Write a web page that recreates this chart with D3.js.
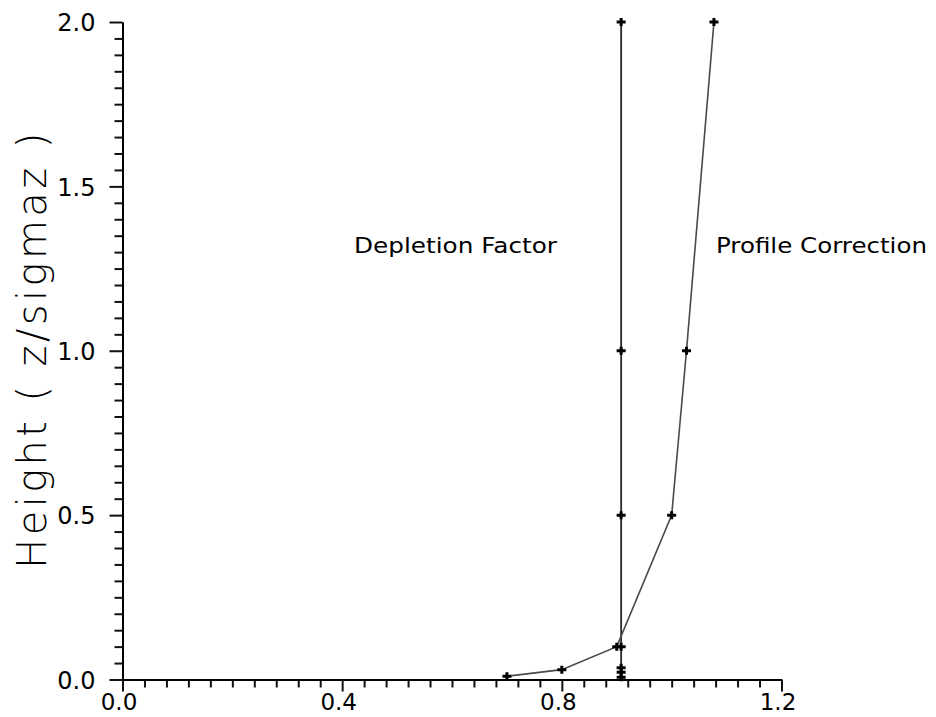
<!DOCTYPE html>
<html>
<head>
<meta charset="utf-8">
<script src="https://cdn.jsdelivr.net/npm/d3@7"></script>
<style>
  body { margin: 0; background: #fff; }
  svg text { font-family: "DejaVu Sans", sans-serif; fill: #000; }
</style>
</head>
<body>
<div id="chart"><svg width="936" height="717"></svg></div>
<script>
// heights (z/sigmaz) and the two curves
const profileHeights = [0.01, 0.03, 0.1, 0.5, 1.0, 2.0];
const profileValues = [0.70, 0.80, 0.90, 1.00, 1.027, 1.077];
const depletionHeights = [0.007, 0.022, 0.036, 0.1, 0.5, 1.0, 2.0];
const depletionValues = [0.908, 0.908, 0.908, 0.908, 0.908, 0.908, 0.908];

const xMajorTicks = [0.0, 0.4, 0.8, 1.2];
const yMajorTicks = [0.0, 0.5, 1.0, 1.5, 2.0];
const xTickLabels = ["0.0", "0.4", "0.8", "1.2"];
const yTickLabels = ["0.0", "0.5", "1.0", "1.5", "2.0"];

const svg = d3.select("#chart svg");

const xScale = d3.scaleLinear().domain([0, 1.2]).range([122.5, 781.5]);
const yScale = d3.scaleLinear().domain([0, 2.0]).range([679.5, 22]);

const xMinor = d3.range(0, 31).map(i => i * 0.04).filter(v => !xMajorTicks.some(m => Math.abs(m - v) < 1e-6));
const yMinor = d3.range(0, 41).map(i => i * 0.05).filter(v => !yMajorTicks.some(m => Math.abs(m - v) < 1e-6));

// minor ticks
svg.append("g")
    .attr("class", "x-minor")
    .attr("transform", `translate(0,${yScale(0)})`)
    .call(d3.axisBottom(xScale).tickValues(xMinor).tickSize(8).tickSizeOuter(0).tickFormat(""));
svg.append("g")
    .attr("class", "y-minor")
    .attr("transform", `translate(${xScale(0)},0)`)
    .call(d3.axisLeft(yScale).tickValues(yMinor).tickSize(8).tickSizeOuter(0).tickFormat(""));

// major ticks + labels
const xAxis = svg.append("g")
    .attr("class", "x-axis")
    .attr("transform", `translate(0,${yScale(0)})`)
    .call(d3.axisBottom(xScale).tickValues(xMajorTicks).tickSize(12).tickSizeOuter(0)
        .tickFormat((d, i) => xTickLabels[i]));
xAxis.selectAll("text")
    .attr("y", 30)
    .attr("dy", 0)
    .attr("x", -4)
    .style("font-size", "23px");

const yAxis = svg.append("g")
    .attr("class", "y-axis")
    .attr("transform", `translate(${xScale(0)},0)`)
    .call(d3.axisLeft(yScale).tickValues(yMajorTicks).tickSize(13).tickSizeOuter(0)
        .tickFormat((d, i) => yTickLabels[i]));
yAxis.selectAll("text")
    .attr("x", -27)
    .attr("dy", "0.36em")
    .style("font-size", "24px");

svg.selectAll(".x-axis path, .y-axis path, .x-minor path, .y-minor path")
    .attr("stroke", "#000").attr("stroke-width", 2);
svg.selectAll(".tick line").attr("stroke", "#111").attr("stroke-width", 2);

// y axis title
svg.append("text")
    .attr("transform", `translate(46,${yScale(1.0)}) rotate(-90)`)
    .attr("text-anchor", "middle")
    .attr("textLength", 436)
    .attr("lengthAdjust", "spacing")
    .style("font-size", "40px")
    .style("font-weight", "300")
    .text("Height ( z/sigmaz )");

// lines
const line = d3.line().x(d => xScale(d[0])).y(d => yScale(d[1]));
const depletion = depletionValues.map((v, i) => [v, depletionHeights[i]]);
const profile = profileValues.map((v, i) => [v, profileHeights[i]]);

svg.append("path")
    .datum(depletion)
    .attr("fill", "none")
    .attr("stroke", "#2a2a2a")
    .attr("stroke-width", 1.8)
    .attr("d", line);

svg.append("path")
    .datum(profile)
    .attr("fill", "none")
    .attr("stroke", "#4a4a4a")
    .attr("stroke-width", 1.6)
    .attr("d", line);

// markers
const marker = "M-4.5,0H4.5M0,-4V4";
svg.selectAll(".mark")
    .data(depletion.concat(profile))
    .enter()
    .append("path")
    .attr("class", "mark")
    .attr("transform", d => `translate(${xScale(d[0])},${yScale(d[1])})`)
    .attr("d", marker)
    .attr("stroke", "#000")
    .attr("stroke-width", 3)
    .attr("fill", "none");

// curve labels
svg.append("text")
    .attr("x", 354)
    .attr("y", 253)
    .attr("textLength", 203)
    .attr("lengthAdjust", "spacingAndGlyphs")
    .style("font-size", "22px")
    .text("Depletion  Factor");

svg.append("text")
    .attr("x", 716)
    .attr("y", 253)
    .attr("textLength", 211)
    .attr("lengthAdjust", "spacingAndGlyphs")
    .style("font-size", "22px")
    .text("Profile  Correction");
</script>
</body>
</html>
